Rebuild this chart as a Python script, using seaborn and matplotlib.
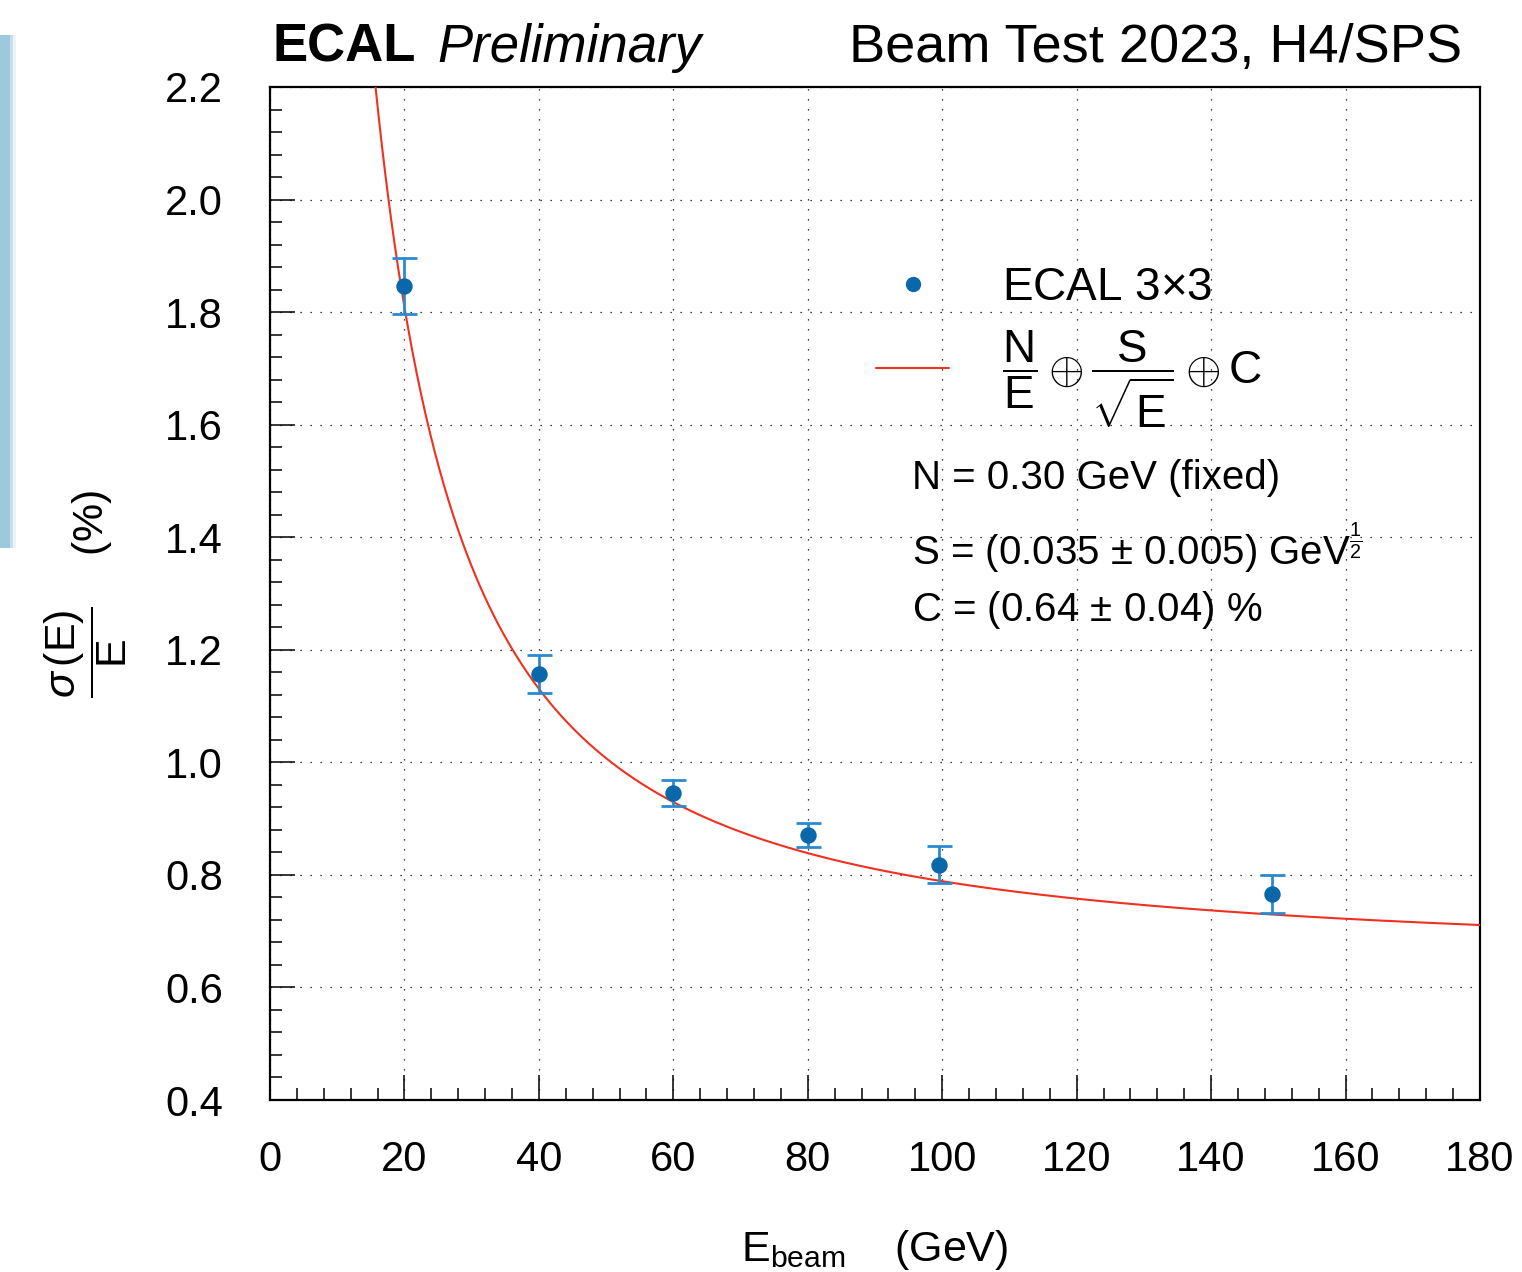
import numpy as np
import pandas as pd
import matplotlib
matplotlib.use("Agg")
import matplotlib.pyplot as plt
from matplotlib.lines import Line2D
from matplotlib.patches import Rectangle
from matplotlib.ticker import MultipleLocator
import seaborn as sns

# Beam test measurements: energy resolution of the 3x3 crystal matrix
beam_energy = [20, 40, 60, 80, 99.5, 149]          # GeV
resolution = [1.846, 1.157, 0.946, 0.871, 0.818, 0.766]  # sigma(E)/E in %
resolution_err = [0.050, 0.034, 0.023, 0.022, 0.033, 0.033]

# Fit parameters of sigma/E = N/E (+) S/sqrt(E) (+) C
fit_N = 0.30    # GeV
fit_S = 0.035   # GeV^1/2
fit_C = 0.64    # %

x_ticks = [0, 20, 40, 60, 80, 100, 120, 140, 160, 180]
y_ticks = [0.4, 0.6, 0.8, 1.0, 1.2, 1.4, 1.6, 1.8, 2.0, 2.2]

sns.set_theme(style="white")
plt.rcParams["font.family"] = ["Liberation Sans", "DejaVu Sans"]
plt.rcParams["mathtext.fontset"] = "custom"
plt.rcParams["mathtext.rm"] = "Liberation Sans"
plt.rcParams["mathtext.it"] = "Liberation Sans:italic"
plt.rcParams["mathtext.bf"] = "Liberation Sans:bold"
plt.rcParams["text.color"] = "black"
plt.rcParams["axes.labelcolor"] = "black"
plt.rcParams["xtick.color"] = "black"
plt.rcParams["ytick.color"] = "black"

point_color = "#0a68aa"
bar_color = "#2a8ad0"
fit_color = "#f03020"

data = pd.DataFrame({"E": beam_energy, "res": resolution, "err": resolution_err})

e_grid = np.linspace(1.0, 180.0, 800)
fit_curve = np.sqrt((100 * fit_N / e_grid) ** 2
                    + (100 * fit_S / np.sqrt(e_grid)) ** 2
                    + fit_C ** 2)
curve = pd.DataFrame({"E": e_grid, "res": fit_curve})

fig = plt.figure(figsize=(15.22, 12.72), dpi=100)
ax = fig.add_axes([270 / 1522, 172 / 1272, 1210 / 1522, 1013 / 1272])

sns.lineplot(data=curve, x="E", y="res", ax=ax, color=fit_color, lw=1.5,
             zorder=3, legend=False)
ax.errorbar(data["E"], data["res"], yerr=data["err"], fmt="none",
            ecolor=bar_color, elinewidth=2.0, capsize=9, capthick=2.0, zorder=4)
sns.scatterplot(data=data, x="E", y="res", ax=ax, color=point_color, s=140,
                edgecolor=point_color, linewidth=0, zorder=5, legend=False)

ax.set_xlim(0, 180)
ax.set_ylim(0.4, 2.2)
ax.set_xticks(x_ticks)
ax.set_yticks(y_ticks)
ax.set_xticklabels([str(t) for t in x_ticks])
ax.set_yticklabels([f"{t:.1f}" for t in y_ticks])
ax.xaxis.set_minor_locator(MultipleLocator(4))
ax.yaxis.set_minor_locator(MultipleLocator(0.04))
ax.tick_params(which="major", direction="in", length=18, width=1.1,
               labelsize=30, color="black", labelcolor="black",
               bottom=True, left=True, top=False, right=False)
ax.tick_params(axis="x", which="major", pad=29)
ax.tick_params(axis="y", which="major", pad=34)
ax.tick_params(which="minor", direction="in", length=8.5, width=1.1,
               color="black", bottom=True, left=True, top=False, right=False)

ax.grid(True, which="major", color="black", lw=0.9, ls=(0, (1, 7)))
for sp in ax.spines.values():
    sp.set_color("black")
    sp.set_linewidth(1.6)

ax.set_xlabel(r"E$_{\mathrm{beam}}$    (GeV)", fontsize=31, labelpad=34)
ax.set_ylabel(r"$\dfrac{\sigma\,(\mathrm{E})}{\mathrm{E}}$    (%)",
              fontsize=31, labelpad=26)

handles = [
    Line2D([], [], ls="none", marker="o", ms=10, color=point_color),
    Line2D([], [], color=fit_color, lw=1.5),
]
labels = [
    r"ECAL 3$\times$3",
    r"$\dfrac{\mathrm{N}}{\mathrm{E}}\oplus\dfrac{\mathrm{S}}{\sqrt{\mathrm{E}}}\oplus\mathrm{C}$",
]
ax.legend(handles, labels, loc="upper left",
          bbox_to_anchor=((853 - 270) / 1210, 1 - (243 - 87) / 1013),
          frameon=False, fontsize=33, handlelength=1.6, handletextpad=1.15,
          labelspacing=0.4, borderpad=0)

param_text = [
    (478, "N = 0.30 GeV (fixed)"),
    (548, r"S = (0.035 $\pm$ 0.005) GeV$^{\frac{1}{2}}$"),
    (610, r"C = (0.64 $\pm$ 0.04) %"),
]
for ypix, txt in param_text:
    ax.text((912 - 270) / 1210, 1 - (ypix - 87) / 1013, txt,
            transform=ax.transAxes, fontsize=29, ha="left", va="center")

fig.text(272 / 1522, 1 - 62 / 1272, "ECAL", fontsize=38, fontweight="bold",
         ha="left", va="baseline")
fig.text(437 / 1522, 1 - 62 / 1272, "Preliminary", fontsize=38,
         fontstyle="italic", ha="left", va="baseline")
fig.text(1462 / 1522, 1 - 62 / 1272, "Beam Test 2023, H4/SPS", fontsize=39,
         ha="right", va="baseline")

# slide frame edge on the left
for w, a in [(16, 0.2), (13, 0.45), (10, 1.0)]:
    fig.patches.append(Rectangle((0, 1 - 548 / 1272), w / 1522, (548 - 35) / 1272,
                                 transform=fig.transFigure, color="#9cc9dc",
                                 alpha=a, lw=0, zorder=0))

fig.savefig("out.png", dpi=100)
